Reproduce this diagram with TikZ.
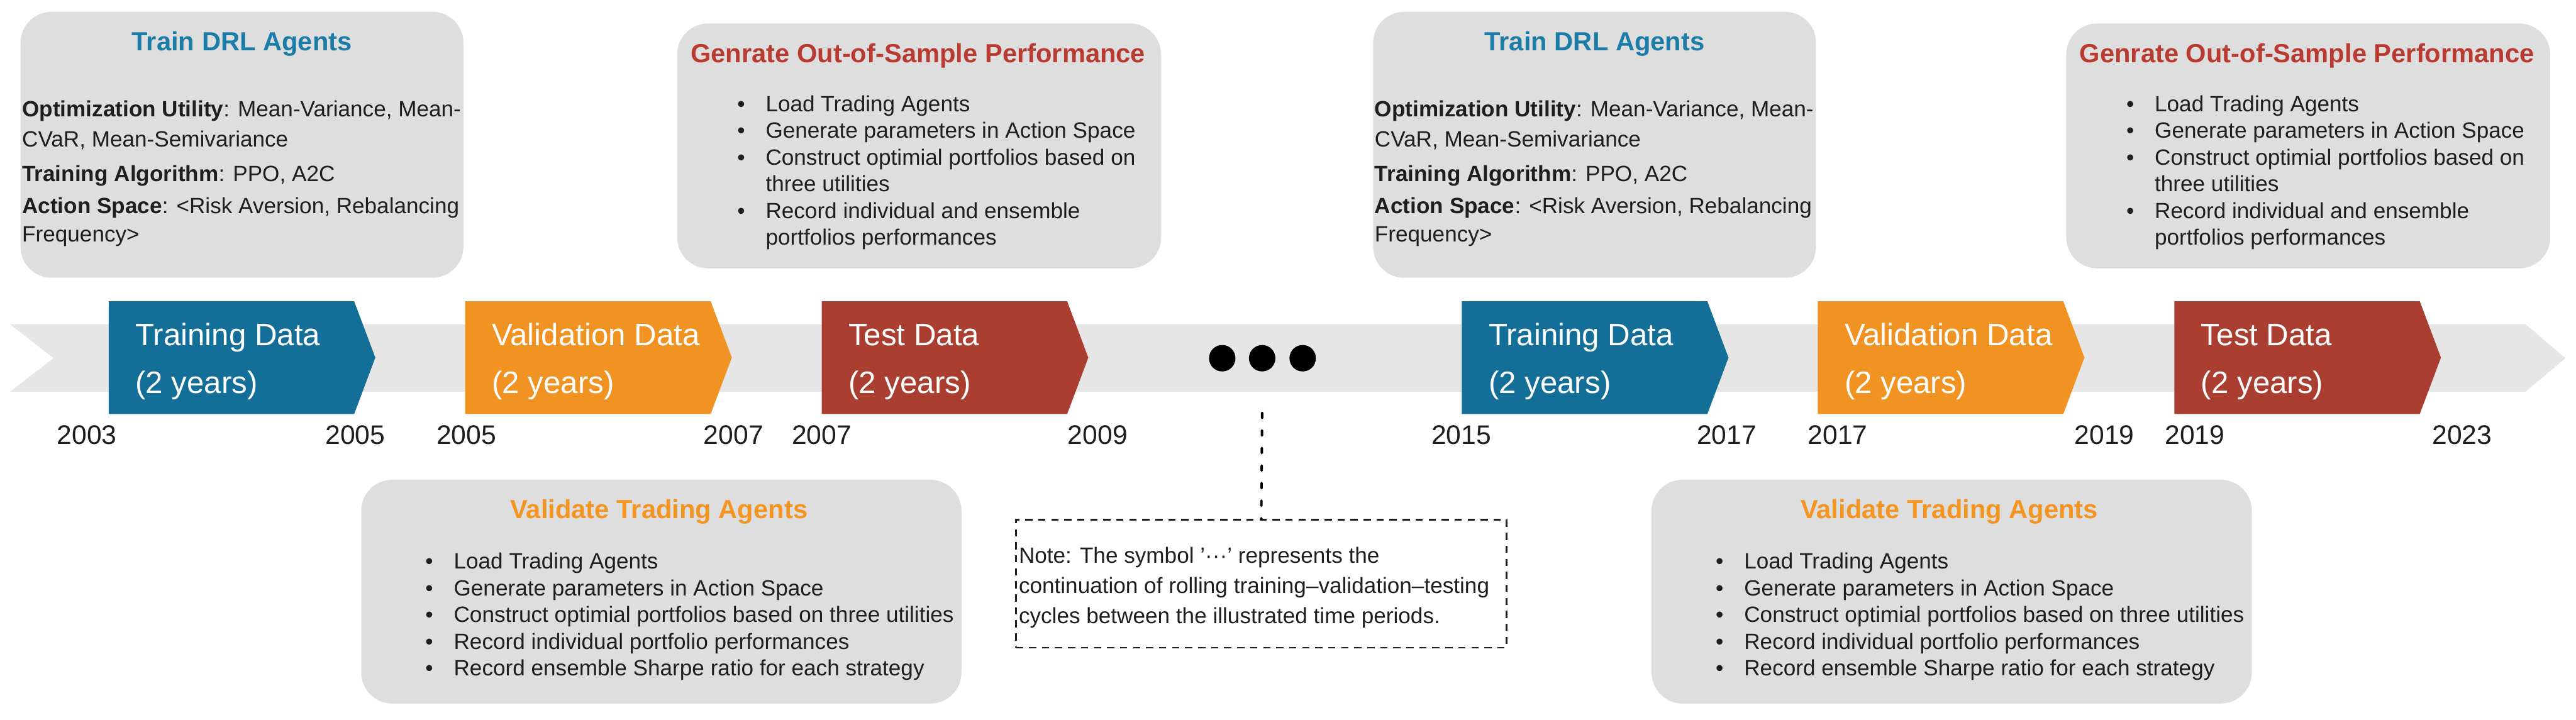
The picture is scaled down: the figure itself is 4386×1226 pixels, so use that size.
\documentclass[tikz,border=0pt]{standalone}
\usepackage{fontspec}
\setmainfont{Liberation Sans}
\usetikzlibrary{calc}

\definecolor{trainblue}{RGB}{20,111,152}
\definecolor{valorange}{RGB}{241,147,35}
\definecolor{testred}{RGB}{170,62,48}
\definecolor{titleblue}{RGB}{28,124,168}
\definecolor{titleorange}{RGB}{243,149,32}
\definecolor{titlered}{RGB}{185,58,48}
\definecolor{bandgray}{RGB}{230,230,230}
\definecolor{panelgray}{RGB}{222,222,222}
\definecolor{ink}{RGB}{30,30,30}

\begin{document}
\begin{tikzpicture}[x=0.01cm, y=-0.01cm,
    panel/.style={fill=panelgray, rounded corners=15pt},
    ttl/.style={font=\fontsize{12.7}{15}\selectfont\bfseries, inner sep=0, anchor=base},
    body/.style={font=\fontsize{10.7}{13}\selectfont, text=ink, inner sep=0, anchor=base west},
    bul/.style={body, execute at begin node={\llap{\textbullet\hspace{10pt}}}},
    arrtxt/.style={font=\fontsize{15}{18}\selectfont, text=white, inner sep=0, anchor=base west},
    yr/.style={font=\fontsize{13}{15}\selectfont, text=ink, inner sep=0, anchor=base},
    dotline/.style={line width=1.2pt, dash pattern=on 2.5pt off 6pt, line cap=round},
    notebox/.style={draw=ink, line width=0.8pt, dash pattern=on 3.5pt off 2.8pt, inner sep=0}]
    \useasboundingbox (0,0) rectangle (4386,1226);

    % Timeline band
    \fill[bandgray] (17,552) -- (4300,552) -- (4368,610) -- (4300,667) -- (17,667) -- (91,610) -- cycle;

    % Data periods
    \foreach \xa/\col/\lab [count=\i] in {185/trainblue/Training Data, 792/valorange/Validation Data, 1399/testred/Test Data,
                                          2489/trainblue/Training Data, 3095/valorange/Validation Data, 3702/testred/Test Data} {
        \fill[\col] (\xa,513) -- ++(418,0) -- ++(36,96) -- ++(-36,96) -- ++(-418,0) -- cycle;
        \node[arrtxt] (seg\i) at (\xa+45,588) {\lab};
        \node[arrtxt] (len\i) at (\xa+45,670) {(2 years)};
    }

    % Years
    \foreach \x/\y [count=\i] in {148/2003, 605/2005, 794/2005, 1249/2007, 1399/2007, 1869/2009,
                                  2488/2015, 2940/2017, 3129/2017, 3583/2019, 3737/2019, 4192/2023}
        \node[yr] (yr\i) at (\x,757) {\y};

    % Dots & note
    \foreach \x [count=\i] in {2081, 2149, 2218}
        \node[circle, fill=black, inner sep=0, minimum size=0.45cm] (dot\i) at (\x,610) {};
    \node[notebox, minimum width=8.35cm, minimum height=2.18cm] (note) at (2147.5,994) {};
    \coordinate (dotend) at (2149,703);
    \draw[dotline] (dotend) -- (note.north);
    \foreach \t [count=\k from 0] in {Note: The symbol '···' represents the,
                                      continuation of rolling training--validation--testing,
                                      cycles between the illustrated time periods.}
        \node[body] (noteline\k) at (1734,959+51.5*\k) {\t};

    % Train DRL Agents
    \foreach \dx/\n in {0/1, 2303/2} {
        \fill[panel] (35+\dx,20) rectangle (789+\dx,473);
        \node[ttl, text=titleblue] (traintitle\n) at (412+\dx,86) {Train DRL Agents};
        \node[body] (opt\n) at (37+\dx,199) {\textbf{Optimization Utility}: Mean-Variance, Mean-};
        \node[body] (cvar\n) at (37+\dx,250) {CVaR, Mean-Semivariance};
        \node[body] (algo\n) at (37+\dx,309) {\textbf{Training Algorithm}: PPO, A2C};
        \node[body] (act\n) at (37+\dx,364) {\textbf{Action Space}: <Risk Aversion, Rebalancing};
        \node[body] (freq\n) at (37+\dx,412) {Frequency>};
    }

    % Genrate Out-of-Sample Performance
    \foreach \dx/\n in {0/1, 2365/2} {
        \fill[panel] (1153+\dx,40) rectangle (1977+\dx,457);
        \node[ttl, text=titlered] (testtitle\n) at (1563+\dx,106) {Genrate Out-of-Sample Performance};
        \foreach \t/\s [count=\k from 0] in {Load Trading Agents/bul, Generate parameters in Action Space/bul,
                                             Construct optimial portfolios based on/bul, three utilities/body,
                                             Record individual and ensemble/bul, portfolios performances/body}
            \node[\s] (test\n-\k) at (1303+\dx,190+45.4*\k) {\t};
    }

    % Validate Trading Agents
    \foreach \dx/\n in {0/1, 2197/2} {
        \fill[panel] (615+\dx,817) rectangle (1637+\dx,1198);
        \node[ttl, text=titleorange] (valtitle\n) at (1122+\dx,883) {Validate Trading Agents};
        \foreach \t [count=\k from 0] in {Load Trading Agents, Generate parameters in Action Space,
                                          Construct optimial portfolios based on three utilities,
                                          Record individual portfolio performances,
                                          Record ensemble Sharpe ratio for each strategy}
            \node[bul] (val\n-\k) at (772+\dx,969+45.5*\k) {\t};
    }
\end{tikzpicture}
\end{document}
